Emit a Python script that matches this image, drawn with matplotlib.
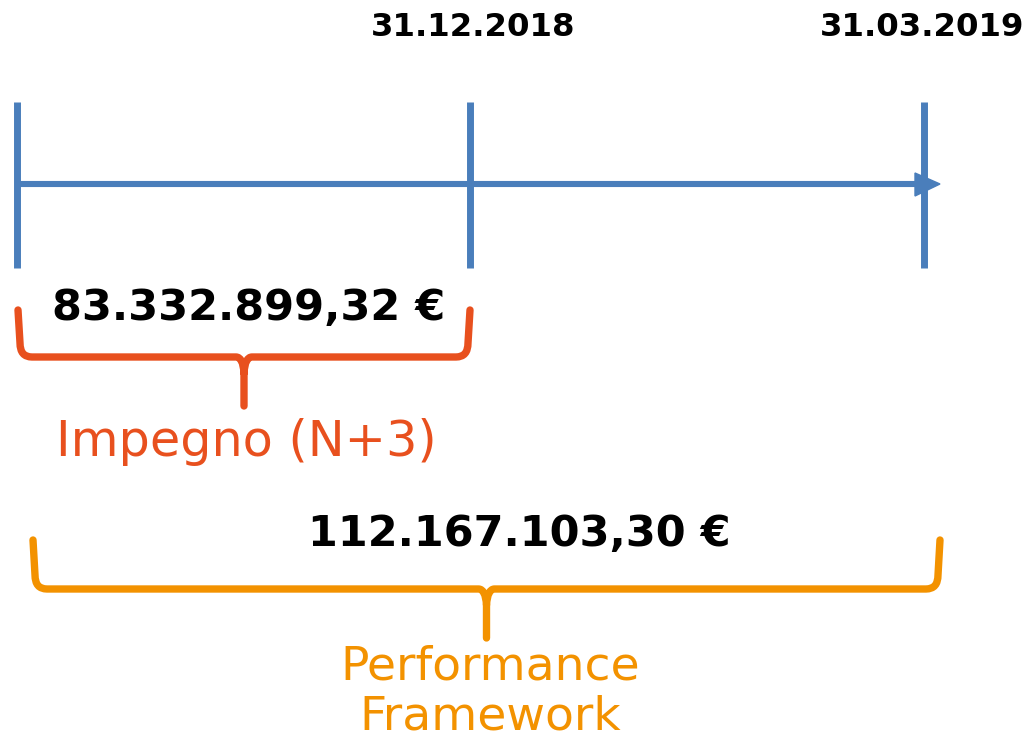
import matplotlib.pyplot as plt
from matplotlib.path import Path
from matplotlib.patches import PathPatch, Polygon

# chart content
date_labels = ["31.12.2018", "31.03.2019"]
amounts = ["83.332.899,32 €", "112.167.103,30 €"]
brace_labels = ["Impegno (N+3)", "Performance\nFramework"]

blue = "#4a7ebb"
red_orange = "#e8501e"
orange = "#f39200"

fig = plt.figure(figsize=(10.27, 7.47), dpi=100)
ax = fig.add_axes([0, 0, 1, 1])
ax.set_xlim(0, 1027)
ax.set_ylim(747, 0)
ax.axis("off")

# timeline
ax.plot([15, 920], [184, 184], color=blue, lw=4.4, solid_capstyle="butt")
ax.add_patch(Polygon([[915, 173], [940, 184], [915, 196]], closed=True, color=blue))
for x in [17, 470, 924]:
    ax.plot([x, x], [102, 268], color=blue, lw=5.0, solid_capstyle="butt")

ax.text(473, 28, date_labels[0], ha="center", va="center", fontsize=23.3, fontweight="bold")
ax.text(922, 28, date_labels[1], ha="center", va="center", fontsize=23.3, fontweight="bold")


def brace(x0, x1, ytop, yh, ytip, color):
    xc = (x0 + x1) / 2
    r = 14
    verts = [(x0, ytop), (x0 + 2, yh - r), (x0 + 2, yh), (x0 + r, yh),
             (xc - 8, yh), (xc - 1, yh), (xc, yh + 16), (xc, ytip),
             (xc, yh + 16), (xc + 1, yh), (xc + 8, yh),
             (x1 - r, yh), (x1 - 2, yh), (x1 - 2, yh - r), (x1, ytop)]
    codes = [Path.MOVETO, Path.LINETO, Path.CURVE3, Path.CURVE3,
             Path.LINETO, Path.CURVE3, Path.CURVE3, Path.LINETO,
             Path.MOVETO, Path.CURVE3, Path.CURVE3,
             Path.LINETO, Path.CURVE3, Path.CURVE3, Path.LINETO]
    ax.add_patch(PathPatch(Path(verts, codes), fill=False, edgecolor=color,
                           lw=5.3, capstyle="round", joinstyle="round"))


brace(18, 470, 310, 357, 406, red_orange)
brace(33, 940, 540, 589, 638, orange)

ax.text(249, 308, amounts[0], ha="center", va="center", fontsize=31, fontweight="bold")
ax.text(519, 534, amounts[1], ha="center", va="center", fontsize=31, fontweight="bold")

ax.text(246, 442, brace_labels[0], ha="center", va="center", fontsize=35.5, color=red_orange)
ax.text(490, 692, brace_labels[1], ha="center", va="center", fontsize=34, color=orange,
        linespacing=1.15)

fig.savefig("out.png", dpi=100)
